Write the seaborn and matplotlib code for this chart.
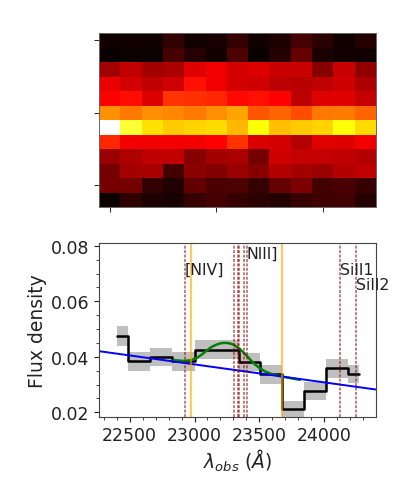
import seaborn as sns
import matplotlib.pyplot as plt
import numpy as np
import pandas as pd
from matplotlib.ticker import MultipleLocator

sns.set_theme(style="ticks")

# 2D spectrum
image_rows = [
    [0.01, 0.01, 0.01, 0.06, 0.01, 0.02, 0.07, 0.01, 0.03, 0.09, 0.05, 0.01, 0.04],
    [0.00, 0.00, 0.00, 0.09, 0.04, 0.01, 0.10, 0.00, 0.04, 0.14, 0.03, 0.01, 0.01],
    [0.23, 0.27, 0.23, 0.24, 0.32, 0.345, 0.30, 0.315, 0.285, 0.285, 0.185, 0.285, 0.20],
    [0.335, 0.30, 0.27, 0.295, 0.39, 0.345, 0.30, 0.295, 0.265, 0.26, 0.27, 0.295, 0.245],
    [0.365, 0.385, 0.315, 0.445, 0.435, 0.425, 0.375, 0.39, 0.365, 0.265, 0.32, 0.32, 0.28],
    [0.58, 0.545, 0.575, 0.57, 0.545, 0.575, 0.61, 0.49, 0.515, 0.48, 0.545, 0.55, 0.515],
    [1.00, 0.80, 0.70, 0.665, 0.68, 0.695, 0.64, 0.75, 0.65, 0.665, 0.68, 0.75, 0.695],
    [0.425, 0.345, 0.345, 0.35, 0.35, 0.365, 0.44, 0.31, 0.30, 0.25, 0.32, 0.315, 0.345],
    [0.215, 0.245, 0.27, 0.27, 0.185, 0.23, 0.235, 0.16, 0.295, 0.28, 0.28, 0.27, 0.25],
    [0.16, 0.23, 0.235, 0.085, 0.195, 0.18, 0.215, 0.185, 0.25, 0.23, 0.215, 0.25, 0.27],
    [0.16, 0.16, 0.06, 0.035, 0.13, 0.095, 0.10, 0.07, 0.135, 0.17, 0.085, 0.095, 0.07],
    [0.00, 0.055, 0.03, 0.02, 0.07, 0.09, 0.07, 0.05, 0.04, 0.07, 0.08, 0.085, 0.04],
]

# 1D spectrum
wave = [22404, 22575, 22745, 22915, 23085, 23255, 23425, 23590, 23760, 23930, 24100, 24268]
flux = [0.0476, 0.0384, 0.0399, 0.0384, 0.0426, 0.0426, 0.0381, 0.0337, 0.0210, 0.0277, 0.0358, 0.0337]
flux_err = [0.0036, 0.0034, 0.0034, 0.0034, 0.0034, 0.0034, 0.0032, 0.0035, 0.0032, 0.0033, 0.0033, 0.0033]

# continuum and gaussian fit
cont_wave = [22266, 24397]
cont_flux = [0.0420, 0.0282]
fit_wave = [22836, 22913, 22960, 23011, 23050, 23094, 23130, 23171, 23205, 23235, 23265, 23299, 23350,
            23390, 23429, 23465, 23505, 23545, 23582, 23625, 23672, 23740, 23813]
fit_flux = [0.0388, 0.0385, 0.0387, 0.0394, 0.0406, 0.0422, 0.0435, 0.0444, 0.0449, 0.0450, 0.0449, 0.0444, 0.0428,
            0.0410, 0.0390, 0.0373, 0.0358, 0.0347, 0.0340, 0.0334, 0.0329, 0.0323, 0.0317]

# line positions
orange_lines = [22973, 23674]
red_lines = [22926, 23307, 23332, 23345, 23384, 23402, 24121, 24245]
line_names = ['[NIV]', 'NIII]', 'SiII1', 'SiII2']
line_name_x = [22926, 23402, 24121, 24245]
line_name_y = [0.0700, 0.0757, 0.0700, 0.0646]

fig = plt.figure(figsize=(3.93, 4.85), dpi=100)
W, H = 393.0, 485.0

# Верхняя панель
ax1 = fig.add_axes([99 / W, 1 - 208 / H, 277 / W, 174 / H])
sns.heatmap(np.array(image_rows), cmap='hot', vmin=0, vmax=1, cbar=False, ax=ax1,
            xticklabels=False, yticklabels=False)
ax1.set_xticks([0.5, 5.5, 10.5])
ax1.set_yticks([0.5, 5.5, 10.5])
ax1.set_xticklabels([])
ax1.set_yticklabels([])
ax1.tick_params(length=3.5, width=0.7, color='#222222', bottom=True, left=True)
for s in ax1.spines.values():
    s.set_visible(True)
    s.set_linewidth(0.7)
    s.set_color('#666666')

# Нижняя панель
ax2 = fig.add_axes([99.3 / W, 1 - 417.7 / H, 276.4 / W, 173.7 / H])
df = pd.DataFrame({'wave': wave, 'flux': flux, 'err': flux_err})
low = df['flux'] - df['err']
high = df['flux'] + df['err']
ax2.fill_between(df['wave'], low, high, step='mid', color='gray', alpha=0.5, linewidth=0)
sns.lineplot(data=df, x='wave', y='flux', drawstyle='steps-mid', color='black', lw=1.8,
             errorbar=None, ax=ax2)
sns.lineplot(x=fit_wave, y=fit_flux, color='green', lw=1.8, errorbar=None, sort=False, ax=ax2)
sns.lineplot(x=cont_wave, y=cont_flux, color='blue', lw=1.4, errorbar=None, ax=ax2)

for x in red_lines:
    ax2.axvline(x, color='darkred', ls=(0, (1.9, 1)), lw=1.1, alpha=0.65)
for x in orange_lines:
    ax2.axvline(x, color='orange', lw=1.6, alpha=0.6)
for name, x, y in zip(line_names, line_name_x, line_name_y):
    ax2.text(x, y, name, fontsize=11.3, color='#222222')

ax2.set_xlim(22266, 24397)
ax2.set_ylim(0.0184, 0.081)
ax2.set_xticks([22500, 23000, 23500, 24000])
ax2.set_yticks([0.02, 0.04, 0.06, 0.08])
ax2.xaxis.set_minor_locator(MultipleLocator(100))
ax2.yaxis.set_minor_locator(MultipleLocator(0.005))
ax2.tick_params(which='major', labelsize=12.5, length=3.5, width=0.8, color='#222222',
                labelcolor='#222222', bottom=True, left=True)
ax2.tick_params(which='minor', length=2, width=0.6, color='#222222', bottom=True, left=True)
ax2.set_xlabel(r'$\lambda_{obs}$ $(\AA)$', fontsize=13.5, color='#222222', labelpad=2)
ax2.set_ylabel('Flux density', fontsize=13.5, color='#222222', labelpad=3)
for s in ax2.spines.values():
    s.set_linewidth(0.8)
    s.set_color('#444444')

fig.savefig('out.png', dpi=100)
